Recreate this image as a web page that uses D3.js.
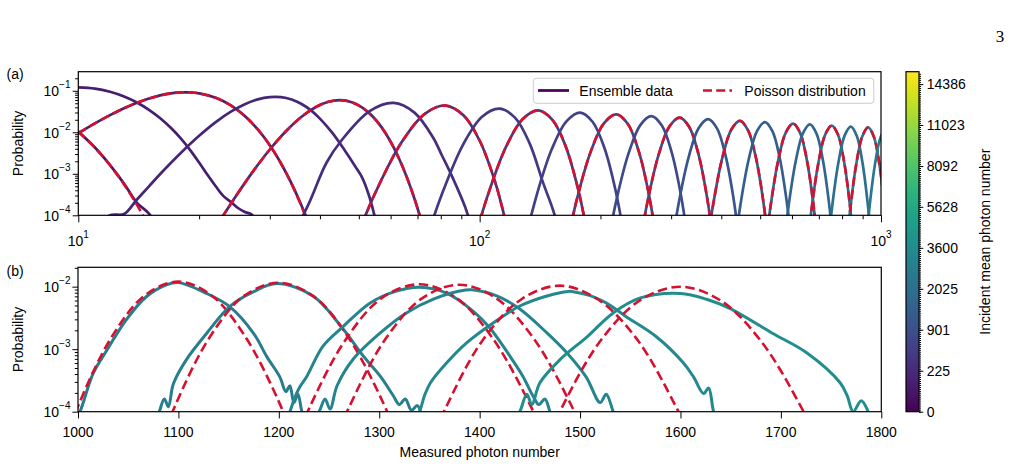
<!DOCTYPE html>
<html>
<head>
<meta charset="utf-8">
<script src="https://cdn.jsdelivr.net/npm/d3@7"></script>
<style>
  body { margin: 0; background: #fff; }
  svg { display: block; }
  text { font-family: "Liberation Sans", Arial, sans-serif; fill: #000; }
</style>
</head>
<body>
<svg></svg>
<script>
// ---- data ----
// panel (a): measured photon number vs probability, one list per curve
var topEnsemble = [
  [[10,1.04e-2],[11,4.3e-3],[12,1.62e-3],[13,5.8e-4],[14,2.0e-4],[15,1.1e-4],[16,4e-5]],
  [[10,0.121],[11,0.113],[12,0.0945],[13,0.0727],[14,0.0521],[15,0.0347],[16,0.0217],[17,0.0128],[18,7.1e-3],[19,3.73e-3],[20,1.87e-3],[21,9.3e-4],[22,5.0e-4],[23,2.9e-4],[24,2.1e-4],[25,1.5e-4],[26,1.2e-4],[27,1.05e-4],[28,6e-5]],
  [[10,9.47e-3],[11,1.64e-2],[12,2.59e-2],[13,3.78e-2],[14,5.13e-2],[15,6.50e-2],[16,7.72e-2],[17,8.64e-2],[18,9.12e-2],[19,9.11e-2],[20,8.66e-2],[22,6.77e-2],[24,4.43e-2],[26,2.46e-2],[28,1.17e-2],[30,4.87e-3],[32,1.77e-3],[34,5.8e-4],[36,1.7e-4],[37,9e-5],[38,4.2e-5]],
  [[11,4e-5],[12,1.0e-4],[13,1.07e-4],[14,2.4e-4],[15,5.0e-4],[16,9.9e-4],[18,3.17e-3],[20,8.23e-3],[22,1.76e-2],[24,3.14e-2],[26,4.76e-2],[28,6.2e-2],[30,7.03e-2],[32,7.0e-2],[34,6.14e-2],[36,4.81e-2],[38,3.37e-2],[40,2.13e-2],[43,9.5e-3],[46,3.8e-3],[49,1.5e-3],[51,8e-4],[53,3e-4],[55,8e-5]],
  [[21,2.5e-5],[23,1.01e-4],[25,3.45e-4],[27,1.01e-3],[30,3.85e-3],[33,1.09e-2],[36,2.37e-2],[39,4.02e-2],[42,5.43e-2],[45,5.93e-2],[48,5.31e-2],[51,3.95e-2],[54,2.47e-2],[57,1.31e-2],[60,5.92e-3],[63,2.31e-3],[66,7.81e-4],[69,2.31e-4],[72,6.0e-5]],
  [[29.8,3.8e-6],[33.7,2.5e-5],[37.6,2.0e-4],[41.5,1.82e-3],[45.4,6.6e-3],[53.2,3.24e-2],[61,5.11e-2],[68.8,2.98e-2],[76.6,7.4e-3],[80.5,2.8e-3],[84.4,1.1e-3],[92.2,1.5e-4],[96,4e-5]],
  [[45.8,4.26e-6],[50.3,4.57e-5],[54.8,3.28e-4],[63.9,5.73e-3],[73.0,2.78e-2],[82,4.41e-2],[91.1,2.58e-2],[100.1,6.16e-3],[109.2,6.50e-4],[113.7,1.59e-4],[118.2,3.25e-5],[122.8,5.6e-6]],
  [[69.7,4.6e-6],[75.0,4.5e-5],[80.3,3.0e-4],[90.8,4.93e-3],[101.4,2.36e-2],[112,3.7e-2],[122.6,2.22e-2],[133.2,5.4e-3],[143.8,6.2e-4],[154.3,9e-5],[159.6,1.5e-5]],
  [[92.7,4.67e-6],[98.6,4.33e-5],[104.5,2.81e-4],[116.3,4.43e-3],[128.2,2.11e-2],[140,3.37e-2],[151.8,1.99e-2],[163.7,4.68e-3],[175.5,4.70e-4],[181.4,1.10e-4],[187.3,2.12e-5]],
  [[124.6,4.57e-6],[138.0,2.57e-4],[151.3,3.94e-3],[164.7,1.86e-2],[178,2.99e-2],[191.3,1.77e-2],[204.7,4.14e-3],[218.0,4.06e-4],[231.4,1.75e-5]],
  [[159.8,4.46e-6],[174.6,2.38e-4],[189.4,3.56e-3],[204.2,1.67e-2],[219,2.70e-2],[233.8,1.60e-2],[248.6,3.72e-3],[263.4,3.59e-4],[278.2,1.49e-5]],
  [[202.5,4.31e-6],[218.9,2.20e-4],[235.3,3.23e-3],[251.6,1.51e-2],[268,2.44e-2],[284.4,1.45e-2],[300.7,3.36e-3],[317.1,3.19e-4],[333.5,1.29e-5]],
  [[244.0,4.18e-6],[261.8,2.06e-4],[279.5,2.98e-3],[297.3,1.39e-2],[315,2.25e-2],[332.8,1.34e-2],[350.5,3.09e-3],[368.2,2.90e-4],[386.0,1.15e-5]],
  [[294.0,4.03e-6],[313.2,1.93e-4],[332.5,2.75e-3],[351.7,1.28e-2],[371,2.07e-2],[390.3,1.24e-2],[409.5,2.85e-3],[428.8,2.65e-4],[448.0,1.02e-5]],
  [[360.6,3.86e-6],[381.7,1.79e-4],[402.8,2.52e-3],[423.9,1.17e-2],[445,1.89e-2],[466.1,1.13e-2],[487.2,2.60e-3],[508.3,2.39e-4],[529.4,9.0e-6]],
  [[423.3,3.72e-6],[446.0,1.68e-4],[468.7,2.34e-3],[491.3,1.08e-2],[514,1.76e-2],[536.7,1.05e-2],[559.3,2.41e-3],[582.0,2.20e-4],[604.7,8.2e-6]],
  [[505.7,3.56e-6],[530.3,1.57e-4],[554.9,2.17e-3],[579.4,9.99e-3],[604,1.62e-2],[628.6,9.72e-3],[653.2,2.22e-3],[677.7,2.01e-4],[702.3,7.4e-6]],
  [[561.9,3.46e-6],[587.6,1.50e-4],[613.4,2.06e-3],[639.2,9.51e-3],[665,1.55e-2],[690.8,9.27e-3],[716.6,2.12e-3],[742.4,1.91e-4],[768.2,6.9e-6]],
  [[644.2,3.33e-6],[671.6,1.42e-4],[699.1,1.94e-3],[726.5,8.93e-3],[754,1.45e-2],[781.5,8.71e-3],[808.9,1.99e-3],[836.4,1.78e-4],[863.8,6.4e-6]],
  [[725,3.22e-6],[754,1.36e-4],[783,1.84e-3],[812,8.44e-3],[841,1.375e-2],[870,8.25e-3],[899,1.88e-3],[928,1.68e-4],[957,6.0e-6]],
  [[807.1,3.11e-6],[837.6,1.30e-4],[868.0,1.75e-3],[898.5,8.03e-3],[929,1.31e-2],[959.5,7.86e-3],[990.0,1.79e-3],[1020.4,1.59e-4],[1050.9,5.6e-6]],
  [[901.6,3.01e-6],[933.7,1.24e-4],[965.8,1.66e-3],[997.9,7.62e-3],[1030,1.24e-2],[1062,7.46e-3]]
];
// incident mean photon number of each curve (sets its colour)
var topIncident = [73, 99, 135, 177, 221, 268, 327, 407, 480, 576, 676, 793, 904, 1033, 1203, 1358, 1559, 1693, 1888, 2077, 2267, 2482];

// panel (a): Poisson curves laid over every second data set
var topPoisson = [
  [[10,1.04e-2],[11,4.26e-3],[12,1.60e-3],[13,5.54e-4],[14,1.78e-4],[15,5.34e-5],[16,1.5e-5]],
  [[10,9.47e-3],[11,1.64e-2],[12,2.59e-2],[13,3.78e-2],[14,5.13e-2],[15,6.50e-2],[16,7.72e-2],[17,8.64e-2],[18,9.12e-2],[19,9.11e-2],[20,8.66e-2],[22,6.77e-2],[24,4.43e-2],[26,2.46e-2],[28,1.17e-2],[30,4.87e-3],[32,1.77e-3],[34,5.70e-4],[36,1.63e-4],[37,8.4e-5],[38,4.2e-5]],
  [[21,2.5e-5],[23,1.01e-4],[25,3.45e-4],[27,1.01e-3],[30,3.85e-3],[33,1.09e-2],[36,2.37e-2],[39,4.02e-2],[42,5.43e-2],[45,5.93e-2],[48,5.31e-2],[51,3.95e-2],[54,2.47e-2],[57,1.31e-2],[60,5.92e-3],[63,2.31e-3],[66,7.81e-4],[69,2.31e-4],[72,6.0e-5]],
  [[45.8,4.26e-6],[50.3,4.57e-5],[54.8,3.28e-4],[63.9,5.73e-3],[73.0,2.78e-2],[82,4.41e-2],[91.1,2.58e-2],[100.1,6.16e-3],[109.2,6.50e-4],[113.7,1.59e-4],[118.2,3.25e-5],[122.8,5.6e-6]],
  [[92.7,4.67e-6],[98.6,4.33e-5],[104.5,2.81e-4],[116.3,4.43e-3],[128.2,2.11e-2],[140,3.37e-2],[151.8,1.99e-2],[163.7,4.68e-3],[175.5,4.70e-4],[181.4,1.10e-4],[187.3,2.12e-5]],
  [[159.8,4.46e-6],[174.6,2.38e-4],[189.4,3.56e-3],[204.2,1.67e-2],[219,2.70e-2],[233.8,1.60e-2],[248.6,3.72e-3],[263.4,3.59e-4],[278.2,1.49e-5]],
  [[244.0,4.18e-6],[261.8,2.06e-4],[279.5,2.98e-3],[297.3,1.39e-2],[315,2.25e-2],[332.8,1.34e-2],[350.5,3.09e-3],[368.2,2.90e-4],[386.0,1.15e-5]],
  [[360.6,3.86e-6],[381.7,1.79e-4],[402.8,2.52e-3],[423.9,1.17e-2],[445,1.89e-2],[466.1,1.13e-2],[487.2,2.60e-3],[508.3,2.39e-4],[529.4,9.0e-6]],
  [[505.7,3.56e-6],[530.3,1.57e-4],[554.9,2.17e-3],[579.4,9.99e-3],[604,1.62e-2],[628.6,9.72e-3],[653.2,2.22e-3],[677.7,2.01e-4],[702.3,7.4e-6]],
  [[644.2,3.33e-6],[671.6,1.42e-4],[699.1,1.94e-3],[726.5,8.93e-3],[754,1.45e-2],[781.5,8.71e-3],[808.9,1.99e-3],[836.4,1.78e-4],[863.8,6.4e-6]],
  [[807.1,3.11e-6],[837.6,1.30e-4],[868.0,1.75e-3],[898.5,8.03e-3],[929,1.31e-2],[959.5,7.86e-3],[990.0,1.79e-3],[1020.4,1.59e-4],[1050.9,5.6e-6]]
];
// which data set each Poisson curve belongs to (drawn right after it)
var topPoissonOf = [0, 2, 4, 6, 8, 10, 12, 14, 16, 18, 20];

// panel (b): high photon numbers
var botEnsemble = [
  [[995,6e-5],[1002,1e-4],[1015,4.07e-4],[1029,9.8e-4],[1048,2.95e-3],[1068,6.9e-3],[1088,1.07e-2],[1100,1.16e-2],[1128,7.8e-3],[1151,4.8e-3],[1175,1.78e-3],[1188,7.6e-4],[1201,3.6e-4],[1207,2.1e-4],[1211,2.6e-4],[1215,1.4e-4],[1219,1.9e-4],[1223,1e-4],[1230,5e-5]],
  [[1075,5e-5],[1081,1e-4],[1086,1.6e-4],[1090,1.2e-4],[1095,2.8e-4],[1108,6.8e-4],[1128,1.78e-3],[1151,4.8e-3],[1175,8.3e-3],[1198,1.12e-2],[1234,7.1e-3],[1264,2.1e-3],[1284,7.8e-4],[1301,3.7e-4],[1314,1.8e-4],[1320,1.3e-4],[1326,1.6e-4],[1332,1.05e-4],[1338,1.25e-4],[1345,5e-5]],
  [[1205,6e-5],[1211,1e-4],[1216,1.7e-4],[1221,2.5e-4],[1228,3.7e-4],[1244,1.12e-3],[1264,2.3e-3],[1291,5.5e-3],[1317,8.5e-3],[1340,9.8e-3],[1367,7.9e-3],[1394,4.0e-3],[1410,2.2e-3],[1430,7.8e-4],[1443,3.7e-4],[1453,1.8e-4],[1459,1.3e-4],[1465,1.6e-4],[1470,1e-4],[1477,5e-5]],
  [[1228,6e-5],[1240,1e-4],[1246,1.6e-4],[1251,1.1e-4],[1258,2.6e-4],[1274,6.9e-4],[1301,1.82e-3],[1327,3.8e-3],[1354,6.3e-3],[1380,8.5e-3],[1392,8.9e-3],[1417,7.1e-3],[1440,4.4e-3],[1467,1.82e-3],[1487,8.7e-4],[1506,3.6e-4],[1520,1.4e-4],[1526,1.9e-4],[1533,1e-4],[1540,5e-5]],
  [[1330,6e-5],[1340,1e-4],[1345,1.8e-4],[1351,2.9e-4],[1367,6.0e-4],[1387,1.26e-3],[1413,2.6e-3],[1440,4.9e-3],[1467,7.1e-3],[1488,8.4e-3],[1493,8.3e-3],[1510,7.2e-3],[1526,5.5e-3],[1546,3.3e-3],[1576,1.58e-3],[1603,6.0e-4],[1613,3.6e-4],[1623,1.95e-4],[1628,2.4e-4],[1633,1e-4],[1640,5e-5]],
  [[1432,6e-5],[1440,1e-4],[1447,1.9e-4],[1452,1.3e-4],[1460,2.9e-4],[1480,6.8e-4],[1507,1.58e-3],[1533,3.8e-3],[1560,6.6e-3],[1600,7.8e-3],[1626,6.3e-3],[1649,4.5e-3],[1692,1.78e-3],[1726,8.7e-4],[1759,2.9e-4],[1766,1.8e-4],[1772,1e-4],[1780,1.5e-4],[1787,1e-4],[1792,5e-5]]
];
var botIncident = [2634, 2846, 3143, 3227, 3437, 3688];
var botPoisson = [
  [[967,3.10e-6],[984,2.23e-5],[1000,1.22e-4],[1034,1.61e-3],[1067,7.36e-3],[1100,1.203e-2],[1133,7.23e-3],[1166,1.64e-3],[1200,1.45e-4],[1216,3.04e-5],[1233,5.1e-6]],
  [[1061,2.97e-6],[1079,2.14e-5],[1096,1.17e-4],[1131,1.54e-3],[1165,7.05e-3],[1200,1.152e-2],[1235,6.92e-3],[1269,1.57e-3],[1304,1.38e-4],[1321,2.91e-5],[1339,4.87e-6]],
  [[1194,2.81e-6],[1212,2.02e-5],[1230,1.11e-4],[1267,1.46e-3],[1303,6.67e-3],[1340,1.090e-2],[1377,6.55e-3],[1413,1.49e-3],[1450,1.31e-4],[1468,2.75e-5],[1486,4.61e-6]],
  [[1231,2.77e-6],[1250,1.99e-5],[1269,1.09e-4],[1306,1.44e-3],[1343,6.57e-3],[1380,1.074e-2],[1417,6.45e-3],[1454,1.47e-3],[1491,1.29e-4],[1510,2.71e-5],[1529,4.54e-6]],
  [[1326,2.68e-6],[1345,1.92e-5],[1365,1.05e-4],[1403,1.39e-3],[1442,6.35e-3],[1480,1.037e-2],[1518,6.23e-3],[1557,1.42e-3],[1595,1.25e-4],[1615,2.62e-5],[1634,4.39e-6]],
  [[1440,2.57e-6],[1460,1.85e-5],[1480,1.01e-4],[1520,1.34e-3],[1560,6.10e-3],[1600,9.97e-3],[1640,5.99e-3],[1680,1.36e-3],[1720,1.20e-4],[1740,2.52e-5],[1760,4.22e-6]]
];

// ticks
var topXTicks = [10, 100, 1000];
var topYTicks = [1e-4, 1e-3, 1e-2, 1e-1];
var botXTicks = [1000, 1100, 1200, 1300, 1400, 1500, 1600, 1700, 1800];
var botYTicks = [1e-4, 1e-3, 1e-2];
var cbTicks = [0, 225, 901, 2025, 3600, 5628, 8092, 11023, 14386];
var cbMax = 15500;

// ---- drawing ----
var svg = d3.select("svg").attr("width", 1013).attr("height", 467);
var red = "#d6102f";

var topBox = {left: 78.3, right: 881, top: 71.7, bottom: 215.3};
var botBox = {left: 78, right: 881.3, top: 267.3, bottom: 411.7};
var cbBox = {left: 906, right: 919, top: 71.7, bottom: 411.7};

var xTop = d3.scaleLog().domain([10, 1000]).range([topBox.left, topBox.right]);
var yTop = d3.scaleLog().domain([1e-4, 0.288]).range([topBox.bottom, topBox.top]);
var xBot = d3.scaleLinear().domain([1000, 1800]).range([botBox.left, botBox.right]);
var yBot = d3.scaleLog().domain([1e-4, 0.0204]).range([botBox.bottom, botBox.top]);
var cbY = d3.scaleSqrt().domain([0, cbMax]).range([cbBox.bottom, cbBox.top]);
var cNorm = d3.scaleSqrt().domain([0, cbMax]).range([0, 1]);
var colorOf = function(n) { return d3.interpolateViridis(cNorm(n)); };

var defs = svg.append("defs");
function clip(id, b) {
  defs.append("clipPath").attr("id", id)
      .append("rect").attr("x", b.left).attr("y", b.top)
      .attr("width", b.right - b.left).attr("height", b.bottom - b.top);
}
clip("clipTop", topBox);
clip("clipBot", botBox);

function supText(g, x, y, anchor, exp) {
  var t = g.append("text").attr("x", x).attr("y", y)
           .attr("text-anchor", anchor).attr("font-size", 14);
  t.append("tspan").text("10");
  t.append("tspan").attr("dy", -8).attr("font-size", 10)
   .text(exp < 0 ? "\u2212" + (-exp) : "" + exp);
}

function logMinors(lo, hi) {
  var out = [];
  for (var e = Math.floor(Math.log10(lo)); e <= Math.ceil(Math.log10(hi)); e++) {
    for (var m = 2; m <= 9; m++) {
      var v = m * Math.pow(10, e);
      if (v > lo && v < hi) out.push(v);
    }
  }
  return out;
}

function tickAxis(g, axis) {
  g.call(axis);
  g.select(".domain").remove();
  g.selectAll(".tick line").attr("stroke", "#000").attr("stroke-width", 1);
}

// ---------- panel (a) ----------
var pa = svg.append("g");
var lineTop = d3.line()
  .x(function(d) { return xTop(d[0]); })
  .y(function(d) { return yTop(d[1]); })
  .curve(d3.curveCatmullRom.alpha(0.5));

var curvesTop = pa.append("g").attr("clip-path", "url(#clipTop)");
topEnsemble.forEach(function(pts, i) {
  curvesTop.append("path").attr("d", lineTop(pts))
    .attr("fill", "none").attr("stroke", colorOf(topIncident[i]))
    .attr("stroke-width", 2.7).attr("stroke-linejoin", "round");
  var j = topPoissonOf.indexOf(i);
  if (j >= 0) {
    curvesTop.append("path").attr("d", lineTop(topPoisson[j]))
      .attr("fill", "none").attr("stroke", red)
      .attr("stroke-width", 2.6).attr("stroke-dasharray", "9,4.2");
  }
});

tickAxis(pa.append("g").attr("transform", "translate(0," + topBox.bottom + ")"),
  d3.axisBottom(xTop).tickValues(topXTicks).tickSize(7).tickFormat(""));
tickAxis(pa.append("g").attr("transform", "translate(0," + topBox.bottom + ")"),
  d3.axisBottom(xTop).tickValues(logMinors(10, 1000)).tickSize(4).tickFormat(""));
tickAxis(pa.append("g").attr("transform", "translate(" + topBox.left + ",0)"),
  d3.axisLeft(yTop).tickValues(topYTicks).tickSize(5.6).tickFormat(""));
tickAxis(pa.append("g").attr("transform", "translate(" + topBox.left + ",0)"),
  d3.axisLeft(yTop).tickValues(logMinors(1e-4, 0.288)).tickSize(3.2).tickFormat(""));

topXTicks.forEach(function(v) {
  supText(pa, xTop(v), 246, "middle", Math.round(Math.log10(v)));
});
topYTicks.forEach(function(v) {
  supText(pa, 70.5, yTop(v) + 5.5, "end", Math.round(Math.log10(v)));
});

pa.append("rect").attr("x", topBox.left).attr("y", topBox.top)
  .attr("width", topBox.right - topBox.left).attr("height", topBox.bottom - topBox.top)
  .attr("fill", "none").attr("stroke", "#000").attr("stroke-width", 1.2);

pa.append("text").attr("transform", "translate(23," + ((topBox.top + topBox.bottom) / 2) + ") rotate(-90)")
  .attr("text-anchor", "middle").attr("font-size", 14).text("Probability");
pa.append("text").attr("x", 6.5).attr("y", 79).attr("font-size", 14).text("(a)");

// legend
var lg = pa.append("g");
lg.append("rect").attr("x", 533.3).attr("y", 78.3).attr("width", 340.5).attr("height", 25)
  .attr("rx", 3).attr("fill", "#fff").attr("fill-opacity", 0.8)
  .attr("stroke", "#cccccc").attr("stroke-width", 1);
lg.append("line").attr("x1", 538).attr("x2", 569).attr("y1", 90.5).attr("y2", 90.5)
  .attr("stroke", d3.interpolateViridis(0)).attr("stroke-width", 2.7);
lg.append("text").attr("x", 579.3).attr("y", 95.5).attr("font-size", 14).text("Ensemble data");
lg.append("line").attr("x1", 703).attr("x2", 732).attr("y1", 90.5).attr("y2", 90.5)
  .attr("stroke", red).attr("stroke-width", 2.6).attr("stroke-dasharray", "9,4.2");
lg.append("text").attr("x", 744.3).attr("y", 95.5).attr("font-size", 14).text("Poisson distribution");

// ---------- panel (b) ----------
var pb = svg.append("g");
var lineBot = d3.line()
  .x(function(d) { return xBot(d[0]); })
  .y(function(d) { return yBot(d[1]); })
  .curve(d3.curveCatmullRom.alpha(0.5));

var curvesBot = pb.append("g").attr("clip-path", "url(#clipBot)");
botEnsemble.forEach(function(pts, i) {
  curvesBot.append("path").attr("d", lineBot(pts))
    .attr("fill", "none").attr("stroke", colorOf(botIncident[i]))
    .attr("stroke-width", 3).attr("stroke-linejoin", "round");
  curvesBot.append("path").attr("d", lineBot(botPoisson[i]))
    .attr("fill", "none").attr("stroke", red)
    .attr("stroke-width", 2.6).attr("stroke-dasharray", "9.5,4.5");
});

tickAxis(pb.append("g").attr("transform", "translate(0," + botBox.bottom + ")"),
  d3.axisBottom(xBot).tickValues(botXTicks).tickSize(6.7).tickFormat(""));
tickAxis(pb.append("g").attr("transform", "translate(" + botBox.left + ",0)"),
  d3.axisLeft(yBot).tickValues(botYTicks).tickSize(5.6).tickFormat(""));
tickAxis(pb.append("g").attr("transform", "translate(" + botBox.left + ",0)"),
  d3.axisLeft(yBot).tickValues(logMinors(1e-4, 0.0204)).tickSize(3.2).tickFormat(""));

botXTicks.forEach(function(v) {
  pb.append("text").attr("x", xBot(v)).attr("y", 436.7)
    .attr("text-anchor", "middle").attr("font-size", 14).text(v);
});
botYTicks.forEach(function(v) {
  supText(pb, 70.5, yBot(v) + 5.5, "end", Math.round(Math.log10(v)));
});

pb.append("rect").attr("x", botBox.left).attr("y", botBox.top)
  .attr("width", botBox.right - botBox.left).attr("height", botBox.bottom - botBox.top)
  .attr("fill", "none").attr("stroke", "#000").attr("stroke-width", 1.2);

pb.append("text").attr("transform", "translate(23," + ((botBox.top + botBox.bottom) / 2) + ") rotate(-90)")
  .attr("text-anchor", "middle").attr("font-size", 14).text("Probability");
pb.append("text").attr("x", (botBox.left + botBox.right) / 2).attr("y", 456.5)
  .attr("text-anchor", "middle").attr("font-size", 14).text("Measured photon number");
pb.append("text").attr("x", 6.5).attr("y", 275.5).attr("font-size", 14).text("(b)");

// ---------- colour bar ----------
var cb = svg.append("g");
var grad = defs.append("linearGradient").attr("id", "viridisGrad")
  .attr("x1", 0).attr("y1", 1).attr("x2", 0).attr("y2", 0);
d3.range(0, 1.0001, 0.02).forEach(function(t) {
  grad.append("stop").attr("offset", t).attr("stop-color", d3.interpolateViridis(t));
});
cb.append("rect").attr("x", cbBox.left).attr("y", cbBox.top)
  .attr("width", cbBox.right - cbBox.left).attr("height", cbBox.bottom - cbBox.top)
  .attr("fill", "url(#viridisGrad)");

var cbMinor = d3.range(0, Math.sqrt(cbMax), 0.75).map(function(s) { return s * s; });
tickAxis(cb.append("g").attr("transform", "translate(" + cbBox.right + ",0)"),
  d3.axisRight(cbY).tickValues(cbMinor).tickSize(2).tickFormat(""));
var cbAxis = cb.append("g").attr("transform", "translate(" + cbBox.right + ",0)");
tickAxis(cbAxis, d3.axisRight(cbY).tickValues(cbTicks).tickSize(4.3).tickPadding(3.5)
  .tickFormat(d3.format("d")));
cbAxis.selectAll(".tick text").attr("font-size", 14).attr("fill", "#000");
cbAxis.attr("font-size", null).attr("font-family", null);

cb.append("rect").attr("x", cbBox.left).attr("y", cbBox.top)
  .attr("width", cbBox.right - cbBox.left).attr("height", cbBox.bottom - cbBox.top)
  .attr("fill", "none").attr("stroke", "#000").attr("stroke-width", 1.2);

cb.append("text").attr("transform", "translate(990," + ((cbBox.top + cbBox.bottom) / 2) + ") rotate(-90)")
  .attr("text-anchor", "middle").attr("font-size", 14).text("Incident mean photon number");

// page number
svg.append("text").attr("x", 1000).attr("y", 42).attr("text-anchor", "middle")
  .attr("font-size", 17).style("font-family", "'Liberation Serif', 'DejaVu Serif', serif").text("3");
</script>
</body>
</html>
